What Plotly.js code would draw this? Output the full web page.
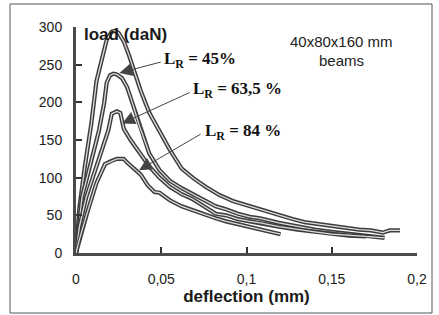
<!DOCTYPE html>
<html><head><meta charset="utf-8">
<script src="https://cdn.plot.ly/plotly-3.0.1.min.js"></script>
<style>html,body{margin:0;padding:0;background:#fff}#c{width:439px;height:315px}</style>
</head><body><div id="c"></div>
<script>
// L_R = 45 %
const x1 = [0, 0.002, 0.005, 0.009, 0.012, 0.015, 0.018, 0.021, 0.023, 0.025, 0.028, 0.031, 0.034, 0.038, 0.043, 0.049, 0.055, 0.062, 0.069, 0.076, 0.084, 0.092, 0.102, 0.11, 0.119, 0.127, 0.134, 0.143, 0.153, 0.16, 0.166, 0.173, 0.18, 0.184, 0.19];
const y1 = [0, 60, 112, 172, 228, 256, 283, 294, 295, 292, 281, 263, 243, 215, 186, 162, 137, 112, 99, 88, 77, 69, 62, 56, 50, 45, 41, 38, 35, 33, 31, 30, 27, 30, 30];
// L_R = 63,5 %
const x2 = [0, 0.0035, 0.0076, 0.011, 0.0135, 0.0165, 0.018, 0.020, 0.022, 0.024, 0.027, 0.030, 0.033, 0.037, 0.043, 0.049, 0.055, 0.062, 0.068, 0.075, 0.082, 0.088, 0.095, 0.102, 0.108, 0.119, 0.13, 0.14, 0.15, 0.16, 0.17, 0.181];
const y2 = [0, 74, 110, 140, 163, 199, 226, 236, 238, 237, 232, 220, 200, 170, 132, 110, 96, 86, 79, 70, 62, 58, 52, 48, 46, 40, 35, 31, 28, 25, 22, 20];
// L_R = 84 %
const x3 = [0, 0.002, 0.006, 0.0106, 0.015, 0.019, 0.021, 0.024, 0.026, 0.028, 0.032, 0.036, 0.043, 0.049, 0.055, 0.062, 0.068, 0.075, 0.082, 0.088, 0.095, 0.102, 0.108, 0.119, 0.13, 0.14, 0.15, 0.16, 0.17];
const y3 = [0, 35, 74, 106, 135, 163, 185, 188, 186, 165, 150, 137, 115, 100, 88, 78, 72, 62, 52, 50, 45, 42, 40, 35, 31, 28, 25, 23, 22];
// lowest curve
const x4 = [0, 0.002, 0.0065, 0.012, 0.017, 0.0205, 0.024, 0.028, 0.03, 0.035, 0.038, 0.042, 0.046, 0.049, 0.055, 0.062, 0.068, 0.075, 0.082, 0.088, 0.095, 0.102, 0.108, 0.114, 0.12];
const y4 = [0, 18, 53, 93, 118, 122, 125, 125, 120, 110, 104, 90, 81, 80, 70, 62, 57, 52, 46, 42, 38, 34, 31, 28, 25];

const xTickVals = [0, 0.05, 0.1, 0.15, 0.2];
const xTickText = ['0', '0,05', '0,1', '0,15', '0,2'];
const yTickVals = [0, 50, 100, 150, 200, 250, 300];
const yTickText = ['0', '50', '100', '150', '200', '250', '300'];
const labels = ['L<sub>R</sub> = 45%', 'L<sub>R</sub> = 63,5 %', 'L<sub>R</sub> = 84 %'];

const series = [[x1, y1], [x2, y2], [x3, y3], [x4, y4]];
const traces = [];
series.forEach(([x, y]) => {
  traces.push({x, y, type: 'scatter', mode: 'lines', line: {color: '#3c3c3c', width: 4.2}, hoverinfo: 'skip', showlegend: false});
  traces.push({x, y, type: 'scatter', mode: 'lines', line: {color: '#dcdcdc', width: 1.3}, hoverinfo: 'skip', showlegend: false});
});

const serif = {family: 'Liberation Serif, Times New Roman, serif', size: 17, weight: 'bold', color: '#111'};
const sans = {family: 'Liberation Sans, Arial, sans-serif', size: 14, color: '#222'};
const sansInfo = {family: 'Liberation Sans, Arial, sans-serif', size: 15, color: '#222'};
const sansBold = {family: 'Liberation Sans, Arial, sans-serif', size: 17, weight: 'bold', color: '#1a1a1a'};

const annotations = [
  // arrows
  {x: 0.0255, y: 239, ax: 0.0506, ay: 254, axref: 'x', ayref: 'y', xref: 'x', yref: 'y', text: '', showarrow: true, arrowhead: 2, arrowsize: 2.6, arrowwidth: 1, arrowcolor: '#444'},
  {x: 0.027, y: 172, ax: 0.0676, ay: 214, axref: 'x', ayref: 'y', xref: 'x', yref: 'y', text: '', showarrow: true, arrowhead: 2, arrowsize: 2.6, arrowwidth: 1, arrowcolor: '#444'},
  {x: 0.037, y: 110, ax: 0.074, ay: 159, axref: 'x', ayref: 'y', xref: 'x', yref: 'y', text: '', showarrow: true, arrowhead: 2, arrowsize: 2.6, arrowwidth: 1, arrowcolor: '#444'},
  // labels
  {x: 0.0506, y: 256, xref: 'x', yref: 'y', xanchor: 'left', yanchor: 'middle', text: labels[0], showarrow: false, font: serif},
  {x: 0.0676, y: 216, xref: 'x', yref: 'y', xanchor: 'left', yanchor: 'middle', text: labels[1], showarrow: false, font: serif},
  {x: 0.0745, y: 161, xref: 'x', yref: 'y', xanchor: 'left', yanchor: 'middle', text: labels[2], showarrow: false, font: serif},
  {x: 0.78, y: 0.935, xref: 'paper', yref: 'paper', xanchor: 'center', yanchor: 'middle', text: '40x80x160 mm', showarrow: false, font: sansInfo},
  {x: 0.78, y: 0.85, xref: 'paper', yref: 'paper', xanchor: 'center', yanchor: 'middle', text: 'beams', showarrow: false, font: sansInfo},
  {x: 0.018, y: 0.965, xref: 'paper', yref: 'paper', xanchor: 'left', yanchor: 'middle', text: 'load (daN)', showarrow: false, font: sansBold}
];

const layout = {
  width: 439, height: 315,
  margin: {l: 76, r: 22, t: 27, b: 62},
  paper_bgcolor: '#fff', plot_bgcolor: '#fff',
  showlegend: false,
  xaxis: {
    range: [0, 0.2], tickvals: xTickVals, ticktext: xTickText,
    showgrid: false, zeroline: false, showline: true, linewidth: 3, linecolor: '#4a4a4a',
    ticks: 'inside', ticklen: 6, tickwidth: 2, tickcolor: '#333',
    ticklabelstandoff: 11,
    tickfont: sans,
    title: {text: 'deflection (mm)', font: sansBold, standoff: 0}
  },
  yaxis: {
    range: [0, 300], tickvals: yTickVals, ticktext: yTickText,
    showgrid: false, zeroline: false, showline: true, linewidth: 3, linecolor: '#4a4a4a',
    ticks: 'inside', ticklen: 6, tickwidth: 2, tickcolor: '#333',
    ticklabelstandoff: 8,
    tickfont: sans
  },
  shapes: [
    {type: 'rect', xref: 'paper', yref: 'paper', x0: -0.1935, x1: 1.044, y0: -0.2655, y1: 1.1018, line: {color: '#555', width: 1}}
  ],
  annotations
};

Plotly.newPlot('c', traces, layout, {staticPlot: true, displayModeBar: false});
</script></body></html>
